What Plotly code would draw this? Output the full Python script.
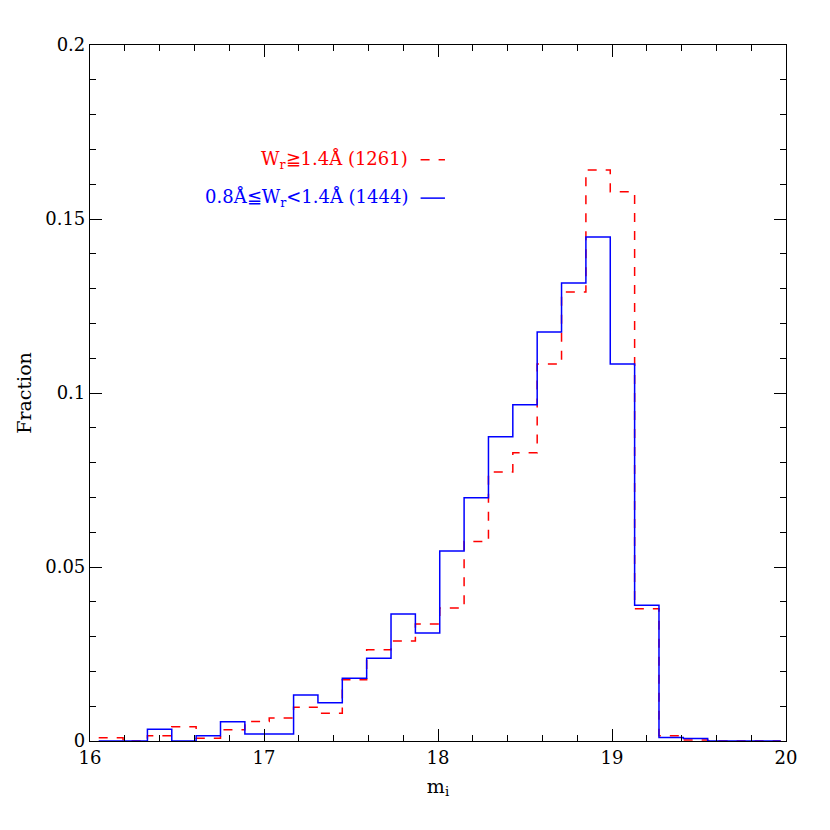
import plotly.graph_objects as go

bin_start = 16.05
bin_width = 0.14
red_vals = [0.0009, 0.0, 0.0015, 0.0041, 0.0008, 0.0032, 0.0056, 0.0066, 0.0097, 0.008,
            0.0176, 0.0262, 0.0287, 0.0336, 0.0382, 0.0573, 0.0773, 0.0828, 0.1083, 0.129,
            0.1641, 0.1578, 0.038, 0.0015, 0.0003, 0.0, 0.0, 0.0]
blue_vals = [0.0, 0.0, 0.0034, 0.0, 0.0015, 0.0055, 0.002, 0.002, 0.0132, 0.011,
             0.018, 0.0238, 0.0365, 0.031, 0.0546, 0.0699, 0.0874, 0.0966, 0.1175, 0.1316,
             0.1448, 0.1083, 0.039, 0.001, 0.0007, 0.0, 0.0, 0.0]

def steps(vals):
    xs = [bin_start + i * bin_width for i in range(len(vals) + 1)]
    ys = list(vals) + [vals[-1]]
    return xs, ys

font = "DejaVu Serif"
fig = go.Figure()
rx, ry = steps(red_vals)
bx, by = steps(blue_vals)
fig.add_trace(go.Scatter(x=rx, y=ry, mode="lines", line=dict(shape="hv", color="red", dash="dash", width=1.5)))
fig.add_trace(go.Scatter(x=bx, y=by, mode="lines", line=dict(shape="hv", color="blue", width=1.5)))
fig.add_trace(go.Scatter(x=[17.9, 18.04], y=[0.167, 0.167], mode="lines", line=dict(color="red", dash="dash", width=1.5)))
fig.add_trace(go.Scatter(x=[17.9, 18.04], y=[0.156, 0.156], mode="lines", line=dict(color="blue", width=1.5)))

fig.add_annotation(x=17.84, y=0.167, xanchor="right", showarrow=False,
                   text="W<sub>r</sub>≧1.4Å (1261)", font=dict(family=font, size=18, color="red"))
fig.add_annotation(x=17.84, y=0.156, xanchor="right", showarrow=False,
                   text="0.8Å≦W<sub>r</sub><1.4Å (1444)", font=dict(family=font, size=18, color="blue"))

axcommon = dict(showgrid=False, zeroline=False, showline=True, linecolor="black", linewidth=1.2,
                mirror="ticks", ticks="inside", ticklen=12, tickcolor="black",
                tickfont=dict(family=font, size=18, color="black"))
fig.update_xaxes(range=[16, 20], tickvals=[16, 17, 18, 19, 20],
                 title=dict(text="m<sub>i</sub>", font=dict(family=font, size=19, color="black"), standoff=12),
                 minor=dict(dtick=0.2, ticks="inside", ticklen=6, tickcolor="black"), **axcommon)
fig.update_yaxes(range=[0, 0.2], tickvals=[0, 0.05, 0.1, 0.15, 0.2], ticktext=["0", "0.05", "0.1", "0.15", "0.2"],
                 title=dict(text="Fraction", font=dict(family=font, size=19, color="black"), standoff=8),
                 minor=dict(dtick=0.01, ticks="inside", ticklen=6, tickcolor="black"), **axcommon)
fig.update_layout(width=830, height=830, showlegend=False, plot_bgcolor="white", paper_bgcolor="white",
                  margin=dict(l=82, r=52, t=37, b=97))
fig.write_html("out.html")
